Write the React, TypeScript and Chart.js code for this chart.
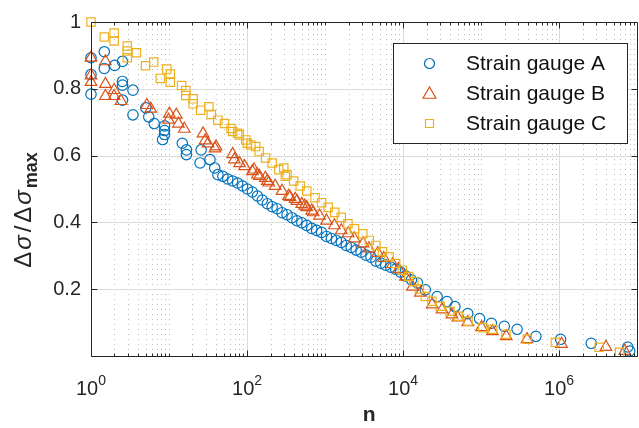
import React, { useEffect, useRef } from 'react';
import { Chart, registerables } from 'chart.js';

Chart.register(...registerables);

const FONT = '"Liberation Sans", Arial, Helvetica, sans-serif';
const AXIS_COLOR = '#262626';

const seriesLabels = ['Strain gauge A', 'Strain gauge B', 'Strain gauge C'];
const seriesColors = ['#0072BD', '#D95319', '#EDB120'];
const seriesStyles = ['circle', 'triangle', 'rect'];

// Strain gauge A
const nA = [
  1, 1, 1, 1.48, 1.48, 2.01, 2.53, 2.53, 2.53, 2.53, 3.45, 3.45, 5.04, 5.5, 6.46, 8.77, 8.77, 8.77, 8.27,
  14.8, 16.7, 16.7, 25.8, 25.0, 33.5, 38.5, 42.3,
  49, 56.6, 65.5, 75.8, 87.7, 101, 117, 136, 157, 182, 210, 243, 281, 326, 377, 436, 504, 583, 675, 780, 903,
  1045, 1208, 1398, 1617, 1871, 2164, 2504, 2897, 3351, 3877, 4485, 5189, 6003, 6945, 8035, 9296,
  10754, 12820, 15280, 19280, 27330, 36580, 46220, 67490, 95690, 135800, 198300, 289700, 504700,
  1045000, 2580000, 7580000, 8040000,
];
const vA = [
  0.893, 0.843, 0.784, 0.911, 0.861, 0.87, 0.882, 0.822, 0.811, 0.766, 0.796, 0.722, 0.743, 0.716, 0.696, 0.689, 0.675, 0.663, 0.648,
  0.637, 0.617, 0.603, 0.617, 0.578, 0.588, 0.563, 0.543,
  0.538, 0.53, 0.524, 0.518, 0.509, 0.5, 0.491, 0.479, 0.467, 0.456, 0.447, 0.441, 0.429, 0.423, 0.414, 0.405, 0.399, 0.391, 0.382, 0.376, 0.37,
  0.358, 0.352, 0.346, 0.34, 0.331, 0.325, 0.317, 0.311, 0.302, 0.296, 0.284, 0.278, 0.272, 0.266, 0.26, 0.251,
  0.24, 0.228, 0.219, 0.198, 0.178, 0.163, 0.148, 0.127, 0.112, 0.098, 0.089, 0.08, 0.059,
  0.05, 0.038, 0.027, 0.015,
];

// Strain gauge B
const nB = [
  1, 1, 1, 1.53, 1.53, 1.53, 1.98, 1.98, 2.43, 5.19, 5.83, 10.1, 9.86, 12.4, 13.2, 15.7, 27.3, 29.0, 31.6, 38.8,
  40, 65.5, 68.8, 80.4, 93, 117, 123, 136, 144, 172, 182, 190, 229, 281, 341, 355, 414, 436, 503, 550, 583, 675, 705, 851,
  1045, 1318, 1617, 1983, 2361, 3069, 3656, 4753, 5666, 7362, 8770,
  10754, 13190, 16670, 23610, 31620, 42340, 50470, 67490, 101400, 139900, 210200, 388100,
  1076000, 3990000, 6950000,
];
const vB = [
  0.893, 0.84, 0.82, 0.882, 0.814, 0.778, 0.796, 0.778, 0.763, 0.751, 0.74, 0.725, 0.707, 0.722, 0.695, 0.68, 0.666, 0.645, 0.636, 0.621,
  0.627, 0.604, 0.588, 0.577, 0.568, 0.553, 0.558, 0.543, 0.539, 0.533, 0.524, 0.519, 0.509, 0.494, 0.479, 0.476, 0.47, 0.464, 0.455, 0.45, 0.445, 0.435, 0.43, 0.42,
  0.405, 0.391, 0.376, 0.367, 0.352, 0.337, 0.322, 0.308, 0.293, 0.275, 0.26,
  0.237, 0.207, 0.189, 0.154, 0.139, 0.124, 0.115, 0.101, 0.086, 0.074, 0.059, 0.05,
  0.036, 0.027, 0.015,
];

// Strain gauge C
const nC = [
  1, 1.48, 1.98, 1.98, 2.92, 2.92, 2.92, 3.82, 5.0, 6.37, 7.74, 9.38, 10.4, 10.4, 14.5, 16.4, 16.4, 20.4, 20.4, 25.4, 32.4, 34.8,
  42.3, 51.4, 62.4, 65.5, 75.8, 79.7, 96.5, 101, 112, 129, 143, 173, 210, 256, 296, 310, 326, 396, 480, 583, 743, 903,
  1098, 1331, 1617, 1966, 2383, 3047, 3690, 4485, 5454, 6611, 8035, 9772,
  11840, 13700, 16180, 19280, 23440, 29850, 39900, 50850, 68040, 105400, 141000, 208400, 391000, 895000,
  3260000, 5960000,
];
const vC = [
  1.0, 0.955, 0.967, 0.943, 0.928, 0.913, 0.893, 0.908, 0.869, 0.88, 0.831, 0.859, 0.844, 0.82, 0.81, 0.795, 0.78, 0.77, 0.755, 0.736, 0.746, 0.723,
  0.706, 0.696, 0.681, 0.672, 0.667, 0.662, 0.647, 0.637, 0.632, 0.627, 0.612, 0.593, 0.578, 0.558, 0.563, 0.538, 0.543, 0.524, 0.509, 0.494, 0.474, 0.459,
  0.445, 0.43, 0.415, 0.396, 0.381, 0.366, 0.346, 0.331, 0.312, 0.297, 0.277, 0.257,
  0.238, 0.223, 0.201, 0.178, 0.164, 0.149, 0.134, 0.119, 0.104, 0.085, 0.08, 0.065, 0.05, 0.041,
  0.026, 0.011,
];

const xMajorExponents = [0, 2, 4, 6];
const yTickValues = [0.2, 0.4, 0.6, 0.8, 1];
const xTitle = 'n';

function drawMarker(ctx: CanvasRenderingContext2D, style: string, x: number, y: number, r: number) {
  ctx.beginPath();
  if (style === 'circle') {
    ctx.arc(x, y, r, 0, Math.PI * 2);
  } else if (style === 'triangle') {
    ctx.moveTo(x, y - r);
    ctx.lineTo(x + r * Math.sin((2 * Math.PI) / 3), y - r * Math.cos((2 * Math.PI) / 3));
    ctx.lineTo(x + r * Math.sin((4 * Math.PI) / 3), y - r * Math.cos((4 * Math.PI) / 3));
    ctx.closePath();
  } else {
    ctx.rect(x - r, y - r, 2 * r, 2 * r);
  }
  ctx.stroke();
}

const matlabPlugin = {
  id: 'matlabAxes',
  beforeDatasetsDraw(chart: any) {
    const { ctx, chartArea: a, scales } = chart;
    const x = scales.x;
    const y = scales.y;
    ctx.save();
    ctx.lineWidth = 1;
    // minor dotted vertical grid
    ctx.strokeStyle = 'rgba(38,38,38,0.3)';
    ctx.setLineDash([1, 4]);
    for (let d = 0; d < 7; d++) {
      for (let m = 1; m <= 9; m++) {
        if (m === 1 && d % 2 === 0) continue;
        const px = Math.round(x.getPixelForValue(m * Math.pow(10, d))) + 0.5;
        ctx.beginPath();
        ctx.moveTo(px, a.top + 2);
        ctx.lineTo(px, a.bottom);
        ctx.stroke();
      }
    }
    ctx.setLineDash([]);
    ctx.strokeStyle = '#dadada';
    xMajorExponents.forEach((e) => {
      if (e === 0) return;
      const px = Math.round(x.getPixelForValue(Math.pow(10, e))) + 0.5;
      ctx.beginPath();
      ctx.moveTo(px, a.top);
      ctx.lineTo(px, a.bottom);
      ctx.stroke();
    });
    yTickValues.forEach((v) => {
      if (v >= 1) return;
      const py = Math.round(y.getPixelForValue(v)) + 0.5;
      ctx.beginPath();
      ctx.moveTo(a.left, py);
      ctx.lineTo(a.right, py);
      ctx.stroke();
    });
    ctx.restore();
  },
  afterDatasetsDraw(chart: any) {
    const { ctx, chartArea: a, scales } = chart;
    const x = scales.x;
    const y = scales.y;
    ctx.save();
    // frame
    ctx.strokeStyle = AXIS_COLOR;
    ctx.lineWidth = 1;
    const L = Math.round(a.left) + 0.5;
    const B = Math.round(a.bottom) + 0.5;
    const T = Math.round(a.top) + 0.5;
    const R = Math.round(a.right) + 0.5;
    ctx.beginPath();
    ctx.moveTo(L, T);
    ctx.lineTo(R, T);
    ctx.lineTo(R, B);
    ctx.lineTo(L, B);
    ctx.closePath();
    ctx.stroke();
    // ticks
    ctx.beginPath();
    for (let d = 0; d < 7; d++) {
      for (let m = 1; m <= 9; m++) {
        const px = Math.round(x.getPixelForValue(m * Math.pow(10, d))) + 0.5;
        const len = m === 1 && d % 2 === 0 ? 6 : 3;
        ctx.moveTo(px, B);
        ctx.lineTo(px, B - len);
        ctx.moveTo(px, T);
        ctx.lineTo(px, T + len);
      }
    }
    yTickValues.forEach((v) => {
      const py = Math.round(y.getPixelForValue(v)) + 0.5;
      ctx.moveTo(L, py);
      ctx.lineTo(L + 6, py);
      ctx.moveTo(R, py);
      ctx.lineTo(R - 6, py);
    });
    ctx.stroke();

    // x tick labels 10^k
    ctx.fillStyle = AXIS_COLOR;
    ctx.textBaseline = 'alphabetic';
    ctx.textAlign = 'left';
    xMajorExponents.forEach((e) => {
      const px = x.getPixelForValue(Math.pow(10, e));
      ctx.font = `20px ${FONT}`;
      const w1 = ctx.measureText('10').width;
      ctx.font = `14px ${FONT}`;
      const w2 = ctx.measureText(String(e)).width;
      const start = px - (w1 + w2) / 2;
      ctx.font = `20px ${FONT}`;
      ctx.fillText('10', start, 395);
      ctx.font = `14px ${FONT}`;
      ctx.fillText(String(e), start + w1, 385);
    });

    // x title
    ctx.font = `bold 21px ${FONT}`;
    ctx.textAlign = 'center';
    ctx.fillText(xTitle, (a.left + a.right) / 2 + 5, 421);

    // y title: Δσ/Δσ_max
    ctx.save();
    ctx.translate(31, 210);
    ctx.rotate(-Math.PI / 2);
    const parts: [string, string, number, number][] = [
      ['Δ', `24px ${FONT}`, 0, 2],
      ['σ', `italic 24px ${FONT}`, 0, 3],
      ['/', `24px ${FONT}`, 0, 3],
      ['Δ', `24px ${FONT}`, 0, 2],
      ['σ', `italic 24px ${FONT}`, 0, 2],
      ['max', `bold 18px ${FONT}`, 6, 0],
    ];
    let total = 0;
    parts.forEach(([t, f, , sp]) => {
      ctx.font = f;
      total += ctx.measureText(t).width + sp;
    });
    let cx = -total / 2;
    ctx.textAlign = 'left';
    ctx.fillStyle = AXIS_COLOR;
    parts.forEach(([t, f, dy, sp]) => {
      ctx.font = f;
      ctx.fillText(t, cx, dy);
      cx += ctx.measureText(t).width + sp;
    });
    ctx.restore();

    // legend
    const lx = 393.5, ly = 43.5, lw = 234, lh = 100;
    ctx.fillStyle = '#ffffff';
    ctx.fillRect(lx, ly, lw, lh);
    ctx.strokeStyle = AXIS_COLOR;
    ctx.lineWidth = 1;
    ctx.strokeRect(lx, ly, lw, lh);
    const radii = [5, 7.5, 4];
    seriesLabels.forEach((lab, i) => {
      const ry = 63.5 + i * 30;
      ctx.strokeStyle = seriesColors[i];
      ctx.lineWidth = 1.2;
      drawMarker(ctx, seriesStyles[i], 429.5, i === 1 ? ry + 1 : ry, radii[i]);
      ctx.fillStyle = '#111111';
      ctx.font = `21px ${FONT}`;
      ctx.textAlign = 'left';
      ctx.textBaseline = 'middle';
      ctx.fillText(lab, 466, ry + 1);
    });
    ctx.restore();
  },
};

export default function App() {
  const canvasRef = useRef<HTMLCanvasElement | null>(null);

  useEffect(() => {
    if (!canvasRef.current) return;
    const mk = (ns: number[], vs: number[]) => ns.map((n, i) => ({ x: n, y: vs[i] }));
    const datas = [mk(nA, vA), mk(nB, vB), mk(nC, vC)];
    const radii = [5.2, 6.7, 5.9];
    const chart = new Chart(canvasRef.current, {
      type: 'scatter',
      data: {
        datasets: datas.map((d, i) => ({
          label: seriesLabels[i],
          data: d,
          pointStyle: seriesStyles[i] as any,
          pointRadius: radii[i],
          pointHoverRadius: radii[i],
          pointBorderWidth: 1.2,
          borderColor: seriesColors[i],
          pointBorderColor: seriesColors[i],
          backgroundColor: 'rgba(0,0,0,0)',
          pointBackgroundColor: 'rgba(0,0,0,0)',
          showLine: false,
          order: 3 - i,
          clip: false as any,
        })),
      },
      options: {
        animation: false,
        responsive: false,
        devicePixelRatio: 1,
        events: [],
        layout: { padding: { left: 0, top: 19, right: 2, bottom: 0 } },
        plugins: {
          legend: { display: false },
          tooltip: { enabled: false },
        },
        scales: {
          x: {
            type: 'logarithmic',
            min: 1,
            max: 1e7,
            ticks: { display: false },
            grid: { display: false, drawTicks: false },
            border: { display: false },
            afterFit: (s: any) => {
              s.height = 72;
            },
          },
          y: {
            type: 'linear',
            min: 0,
            max: 1,
            afterBuildTicks: (s: any) => {
              s.ticks = yTickValues.map((v) => ({ value: v }));
            },
            ticks: {
              font: { family: FONT, size: 20 },
              color: AXIS_COLOR,
              padding: 10,
              callback: (v: any) => (Number(v) === 1 ? '1' : Number(v).toFixed(1)),
            },
            grid: { display: false, drawTicks: false },
            border: { display: false },
            afterFit: (s: any) => {
              s.width = 91;
            },
          },
        },
      },
      plugins: [matlabPlugin],
    });
    return () => chart.destroy();
  }, []);

  return (
    <div style={{ position: 'fixed', left: 0, top: 0, width: 645, height: 428, background: '#ffffff', overflow: 'hidden' }}>
      <canvas ref={canvasRef} width={645} height={428} style={{ width: 645, height: 428, display: 'block' }} />
    </div>
  );
}
